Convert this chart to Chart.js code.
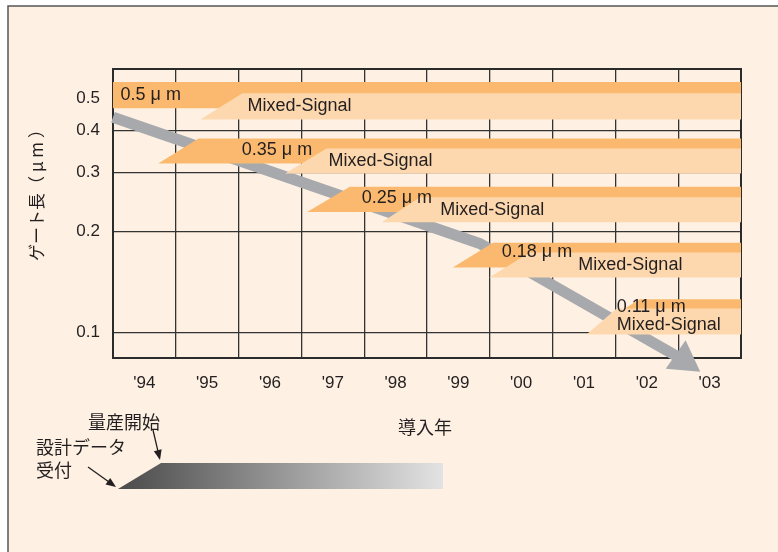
<!DOCTYPE html>
<html>
<head>
<meta charset="utf-8">
<script src="https://cdn.jsdelivr.net/npm/chart.js@4.4.1/dist/chart.umd.min.js"></script>
<style>
  html, body { margin: 0; padding: 0; background: #fff; }
  #wrap { width: 778px; height: 552px; }
</style>
</head>
<body>
<div id="wrap"><canvas id="gate-chart" width="778" height="552"></canvas></div>
<script>
// x axis: year of introduction
const years = [1994, 1995, 1996, 1997, 1998, 1999, 2000, 2001, 2002, 2003];
const yearLabels = ["'94", "'95", "'96", "'97", "'98", "'99", "'00", "'01", "'02", "'03"];
// y axis: gate length (um), log scale
const gateTicks = [0.1, 0.2, 0.3, 0.4, 0.5];

const nodeLabels = ["0.5 μ m", "0.35 μ m", "0.25 μ m", "0.18 μ m", "0.11 μ m"];
const mixedLabel = "Mixed-Signal";

// core process bands (dark): left edge bottom / top corner in years, top / bottom in um
const coreLeftBottom = [1992.8, 1994.22, 1996.59, 1998.91, 2001.24];
const coreLeftTop = [1993.45, 1994.86, 1997.27, 1999.55, 2001.89];
const coreTop = [0.5575, 0.3786, 0.2715, 0.1848, 0.1254];
const coreBottom = [0.466, 0.319, 0.2286, 0.156, 0.1057];
const coreTextYear = [1993.62, 1995.55, 1997.46, 1999.69, 2001.52];
const coreTextGate = [0.51, 0.349, 0.251, 0.173, 0.119];

// mixed-signal bands (light)
const mixedLeftBottom = [1994.89, 1996.24, 1997.78, 1999.49, 2001.04];
const mixedLeftTop = [1995.56, 1996.9, 1998.39, 2000.14, 2001.52];
const mixedTop = [0.516, 0.3535, 0.2529, 0.173, 0.1177];
const mixedBottom = [0.431, 0.2977, 0.213, 0.1457, 0.0984];
const mixedTextYear = [1995.64, 1996.93, 1998.71, 2000.91, 2001.52];
const mixedTextGate = [0.473, 0.325, 0.231, 0.159, 0.105];

// gate length trend arrow
const trendYears = [1993.5, 1999.34, 2002.59];
const trendGate = [0.438, 0.184, 0.0825];

const BAND_END = 2004;
const INK = "#231f20";
const JP = "'Noto Sans CJK JP', sans-serif";
const LATIN = "'Liberation Sans', Arial, sans-serif";

function band(leftBottom, leftTop, top, bottom, color) {
  // points kept out of x order so none get trimmed at the axis edge
  return {
    data: [
      { x: BAND_END, y: top },
      { x: leftTop, y: top },
      { x: leftBottom, y: bottom },
      { x: BAND_END, y: bottom },
    ],
    fill: "shape",
    backgroundColor: color,
    borderColor: "rgba(0,0,0,0)",
    borderWidth: 0,
    pointRadius: 0,
  };
}

const datasets = [];
datasets.push({
  data: trendYears.map((x, i) => ({ x: x, y: trendGate[i] })),
  borderColor: "#a7a9ac",
  borderWidth: 11,
  fill: false,
  clip: false,
  pointStyle: "triangle",
  pointRadius: [0, 0, 20],
  pointRotation: [0, 0, 125],
  pointBackgroundColor: "#a7a9ac",
  pointBorderWidth: 0,
});
for (let i = 0; i < nodeLabels.length; i++) {
  datasets.push(band(coreLeftBottom[i], coreLeftTop[i], coreTop[i], coreBottom[i], "#fab96e"));
  datasets.push(band(mixedLeftBottom[i], mixedLeftTop[i], mixedTop[i], mixedBottom[i], "#fdd8ae"));
}
// first in the list is drawn at the bottom
datasets.forEach((d, i) => { d.order = datasets.length - i; });

const backdrop = {
  id: "backdrop",
  beforeDraw(chart) {
    const ctx = chart.ctx;
    ctx.save();
    ctx.fillStyle = "#fff";
    ctx.fillRect(0, 0, chart.width, chart.height);
    ctx.fillStyle = "#fef1e3";
    ctx.fillRect(8, 6, chart.width - 8, chart.height - 6);
    ctx.strokeStyle = "#555";
    ctx.lineWidth = 1.5;
    ctx.beginPath();
    ctx.moveTo(8, chart.height);
    ctx.lineTo(8, 6);
    ctx.lineTo(chart.width, 6);
    ctx.stroke();
    ctx.restore();
  },
};

const frame = {
  id: "frame",
  beforeDatasetsDraw(chart) {
    const a = chart.chartArea;
    const ctx = chart.ctx;
    ctx.save();
    ctx.strokeStyle = "#2b2b2b";
    ctx.lineWidth = 2;
    ctx.strokeRect(a.left, a.top, a.right - a.left, a.bottom - a.top);
    ctx.restore();
  },
};

const bandText = {
  id: "bandText",
  afterDatasetsDraw(chart) {
    const ctx = chart.ctx;
    const xs = chart.scales.x;
    const ys = chart.scales.y;
    ctx.save();
    ctx.fillStyle = INK;
    ctx.font = "18px " + LATIN;
    ctx.textBaseline = "middle";
    ctx.textAlign = "left";
    for (let i = 0; i < nodeLabels.length; i++) {
      ctx.fillText(nodeLabels[i], xs.getPixelForValue(coreTextYear[i]), ys.getPixelForValue(coreTextGate[i]));
      ctx.fillText(mixedLabel, xs.getPixelForValue(mixedTextYear[i]), ys.getPixelForValue(mixedTextGate[i]));
    }
    ctx.restore();
  },
};

function drawArrow(ctx, x1, y1, x2, y2) {
  const ang = Math.atan2(y2 - y1, x2 - x1);
  ctx.beginPath();
  ctx.moveTo(x1, y1);
  ctx.lineTo(x2 - 6 * Math.cos(ang), y2 - 6 * Math.sin(ang));
  ctx.stroke();
  ctx.beginPath();
  ctx.moveTo(x2, y2);
  ctx.lineTo(x2 - 10 * Math.cos(ang) + 4 * Math.sin(ang), y2 - 10 * Math.sin(ang) - 4 * Math.cos(ang));
  ctx.lineTo(x2 - 10 * Math.cos(ang) - 4 * Math.sin(ang), y2 - 10 * Math.sin(ang) + 4 * Math.cos(ang));
  ctx.closePath();
  ctx.fill();
}

const notes = {
  id: "notes",
  afterDraw(chart) {
    const ctx = chart.ctx;
    const a = chart.chartArea;
    ctx.save();
    ctx.fillStyle = INK;
    ctx.strokeStyle = INK;

    // axis titles
    ctx.font = "17px " + JP;
    ctx.textAlign = "center";
    ctx.textBaseline = "middle";
    ctx.save();
    ctx.translate(37, 191);
    ctx.rotate(-Math.PI / 2);
    ctx.fillText("ゲート長（ μ m ）", 0, 0);
    ctx.restore();
    ctx.font = "18px " + JP;
    ctx.fillText("導入年", (a.left + a.right) / 2 - 2, 427);

    // schedule key below the chart
    const g = ctx.createLinearGradient(118, 0, 443, 0);
    g.addColorStop(0, "#4a4a4a");
    g.addColorStop(1, "#e3e3e3");
    ctx.fillStyle = g;
    ctx.beginPath();
    ctx.moveTo(118, 489);
    ctx.lineTo(161, 463);
    ctx.lineTo(443, 463);
    ctx.lineTo(443, 489);
    ctx.closePath();
    ctx.fill();

    ctx.fillStyle = INK;
    ctx.textAlign = "left";
    ctx.fillText("量産開始", 88, 422);
    ctx.fillText("設計データ", 36, 447);
    ctx.fillText("受付", 36, 470);
    ctx.lineWidth = 1.3;
    drawArrow(ctx, 153, 430, 160, 460);
    drawArrow(ctx, 88, 467, 116, 487);
    ctx.restore();
  },
};

Chart.defaults.font.family = LATIN;
Chart.defaults.color = INK;

new Chart(document.getElementById("gate-chart"), {
  type: "line",
  data: { datasets: datasets },
  options: {
    responsive: false,
    animation: false,
    devicePixelRatio: 1,
    layout: { padding: { left: 0, right: 37, top: 69, bottom: 0 } },
    plugins: { legend: { display: false }, tooltip: { enabled: false } },
    scales: {
      x: {
        type: "linear",
        min: 1993.5,
        max: 2003.5,
        afterBuildTicks: (scale) => { scale.ticks = years.map((v) => ({ value: v })); },
        afterFit: (scale) => { scale.height = 194; },
        ticks: {
          autoSkip: false,
          maxRotation: 0,
          padding: 15,
          font: { size: 17 },
          callback: (value, index) => yearLabels[index],
        },
        grid: { offset: true, color: "#333", lineWidth: 1.3, drawTicks: false },
        border: { display: false },
      },
      y: {
        type: "logarithmic",
        min: 0.0838,
        max: 0.61,
        afterBuildTicks: (scale) => { scale.ticks = gateTicks.map((v) => ({ value: v })); },
        afterFit: (scale) => { scale.width = 113; },
        ticks: {
          autoSkip: false,
          padding: 13,
          font: { size: 17 },
          callback: (value) => String(value),
        },
        grid: { color: "#333", lineWidth: 1.3, drawTicks: false },
        border: { display: false },
      },
    },
  },
  plugins: [backdrop, frame, bandText, notes],
});
</script>
</body>
</html>
